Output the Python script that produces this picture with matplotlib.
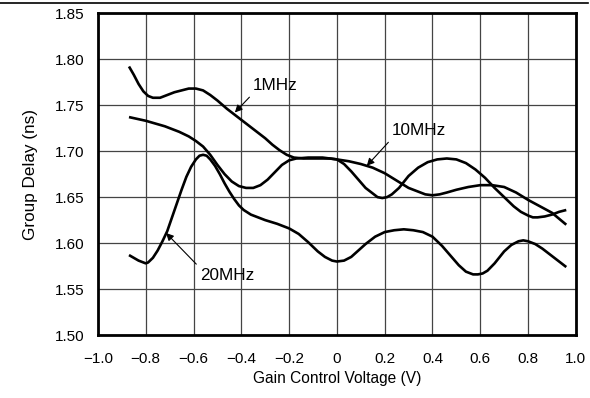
import matplotlib.pyplot as plt
from matplotlib.lines import Line2D

plt.rcParams['font.family'] = ['Liberation Sans', 'DejaVu Sans']

# 1MHz
x_1m = [-0.87, -0.85, -0.83, -0.81, -0.79, -0.77, -0.74, -0.71, -0.68, -0.65, -0.62,
        -0.59, -0.56, -0.53, -0.50, -0.46, -0.42, -0.38, -0.34, -0.30, -0.27, -0.24,
        -0.21, -0.18, -0.14, -0.08, -0.03, 0.00, 0.03, 0.06, 0.09, 0.12, 0.15, 0.17, 0.19, 0.21,
        0.23, 0.26, 0.30, 0.34, 0.38, 0.42, 0.46, 0.50, 0.54, 0.58, 0.62, 0.66, 0.70,
        0.74, 0.77, 0.80, 0.82, 0.84, 0.87, 0.90, 0.93, 0.96]
y_1m = [1.792, 1.783, 1.773, 1.765, 1.760, 1.758, 1.758, 1.761, 1.764, 1.766, 1.768,
        1.768, 1.766, 1.761, 1.755, 1.746, 1.738, 1.730, 1.722, 1.714, 1.707, 1.701,
        1.696, 1.693, 1.692, 1.692, 1.692, 1.691, 1.686, 1.678, 1.669, 1.660, 1.654, 1.650, 1.649, 1.650,
        1.653, 1.660, 1.673, 1.682, 1.688, 1.691, 1.692, 1.691, 1.687, 1.680, 1.671, 1.660, 1.650,
        1.640, 1.634, 1.630, 1.628, 1.628, 1.629, 1.631, 1.634, 1.636]

# 10MHz
x_10m = [-0.87, -0.80, -0.72, -0.66, -0.62, -0.59, -0.56, -0.53, -0.50, -0.47, -0.44,
         -0.41, -0.38, -0.35, -0.32, -0.29, -0.26, -0.23, -0.20, -0.17, -0.12, -0.06,
         0.00, 0.05, 0.10, 0.15, 0.20, 0.25, 0.30, 0.34, 0.37, 0.40, 0.43, 0.46, 0.50,
         0.55, 0.60, 0.65, 0.70, 0.75, 0.80, 0.85, 0.90, 0.96]
y_10m = [1.737, 1.733, 1.727, 1.721, 1.716, 1.711, 1.705, 1.696, 1.685, 1.675, 1.667,
         1.662, 1.660, 1.660, 1.663, 1.669, 1.677, 1.685, 1.690, 1.692, 1.693, 1.693,
         1.691, 1.689, 1.686, 1.682, 1.676, 1.668, 1.660, 1.656, 1.653, 1.652, 1.653, 1.655, 1.658,
         1.661, 1.663, 1.663, 1.661, 1.655, 1.647, 1.640, 1.633, 1.620]

# 20MHz
x_20m = [-0.87, -0.85, -0.83, -0.81, -0.80, -0.79, -0.77, -0.75, -0.73, -0.71, -0.69,
         -0.67, -0.65, -0.63, -0.61, -0.59, -0.575, -0.56, -0.545, -0.53, -0.51, -0.49,
         -0.47, -0.45, -0.43, -0.41, -0.39, -0.36, -0.33, -0.30, -0.25, -0.20, -0.16,
         -0.12, -0.08, -0.05, -0.02, 0.00, 0.03, 0.06, 0.09, 0.12, 0.16, 0.20, 0.24,
         0.28, 0.32, 0.36, 0.40, 0.44, 0.48, 0.51, 0.54, 0.57, 0.59, 0.61, 0.63, 0.66,
         0.70, 0.73, 0.76, 0.78, 0.80, 0.83, 0.86, 0.90, 0.96]
y_20m = [1.587, 1.584, 1.581, 1.579, 1.578, 1.579, 1.584, 1.592, 1.602, 1.613, 1.628,
         1.643, 1.658, 1.672, 1.683, 1.691, 1.695, 1.696, 1.695, 1.691, 1.684, 1.675,
         1.665, 1.656, 1.648, 1.641, 1.636, 1.631, 1.628, 1.625, 1.621, 1.616, 1.610,
         1.601, 1.591, 1.585, 1.581, 1.580, 1.581, 1.585, 1.592, 1.599, 1.607, 1.612, 1.614,
         1.615, 1.614, 1.612, 1.607, 1.597, 1.585, 1.576, 1.569, 1.566, 1.566, 1.567, 1.570, 1.578,
         1.591, 1.598, 1.602, 1.603, 1.602, 1.599, 1.594, 1.586, 1.574]

xticks = [-1.0, -0.8, -0.6, -0.4, -0.2, 0, 0.2, 0.4, 0.6, 0.8, 1.0]
xlabels = ['\u22121.0', '\u22120.8', '\u22120.6', '\u22120.4', '\u22120.2', '0',
           '0.2', '0.4', '0.6', '0.8', '1.0']
yticks = [1.50, 1.55, 1.60, 1.65, 1.70, 1.75, 1.80, 1.85]

fig = plt.figure(figsize=(5.9, 3.98), dpi=100)
ax = fig.add_axes([0.166, 0.158, 0.810, 0.809])

for xs, ys in [(x_1m, y_1m), (x_10m, y_10m), (x_20m, y_20m)]:
    ax.plot(xs, ys, color='black', linewidth=1.9, solid_capstyle='butt',
            solid_joinstyle='round')

ax.set_xlim(-1.0, 1.0)
ax.set_ylim(1.50, 1.85)
ax.set_xticks(xticks)
ax.set_xticklabels(xlabels)
ax.set_yticks(yticks)
ax.set_yticklabels([f'{v:.2f}' for v in yticks])
ax.tick_params(length=0, labelsize=11)
ax.tick_params(axis='x', pad=12)
ax.tick_params(axis='y', pad=10)
ax.grid(True, color='#444444', linewidth=0.9)
ax.set_axisbelow(True)
for s in ax.spines.values():
    s.set_linewidth(2)

ax.set_xlabel('Gain Control Voltage (V)', fontsize=11.2, labelpad=4)
ax.set_ylabel('Group Delay (ns)', fontsize=12.3, labelpad=12)

def arrow(rp):
    return dict(arrowstyle='-|>', color='black', lw=0.8, mutation_scale=11,
                shrinkA=1, shrinkB=0, relpos=rp)

ax.annotate('1MHz', xy=(-0.427, 1.742), xytext=(-0.351, 1.766), fontsize=12.3,
            ha='left', va='baseline', arrowprops=arrow((0, 0)))
ax.annotate('10MHz', xy=(0.125, 1.684), xytext=(0.230, 1.717), fontsize=12.3,
            ha='left', va='baseline', arrowprops=arrow((0, 0)))
ax.annotate('20MHz', xy=(-0.715, 1.611), xytext=(-0.573, 1.560), fontsize=12.3,
            ha='left', va='baseline', arrowprops=arrow((0, 1)))

fig.add_artist(Line2D([0.0, 0.997], [0.993, 0.993], color='black', linewidth=1.2))

fig.savefig('out.png', dpi=100)
